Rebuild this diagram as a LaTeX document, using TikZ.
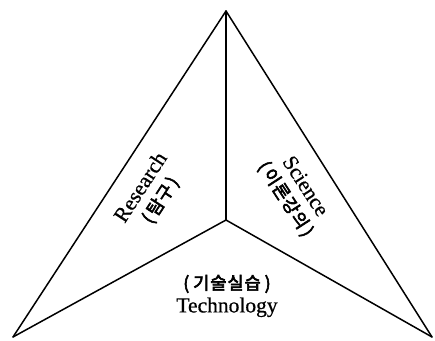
\documentclass[tikz,border=0pt]{standalone}
\usepackage{fontspec}
\setmainfont[FakeBold=0.6]{Liberation Serif}
\newfontfamily\kr[LetterSpace=6, FakeBold=3.5]{Noto Sans CJK KR}
\begin{document}
\begin{tikzpicture}[x=1pt,y=-1pt,
  edge/.style={line width=1.5pt, line join=round, line cap=round},
  lbl/.style={font=\fontsize{21.5}{23}\selectfont, align=center, inner sep=0pt}]
\newcommand{\krs}[1]{{\kr\fontsize{17.5}{23}\selectfont #1}}
\useasboundingbox (0,0) rectangle (435,340);
\coordinate (T) at (226,11);
\coordinate (L) at (13,337);
\coordinate (R) at (432,337);
\coordinate (C) at (226,220);
\draw[edge] (T) -- (L);
\draw[edge] (T) -- (R);
\draw[edge] (T) -- (C);
\draw[edge] (C) -- (L);
\draw[edge] (C) -- (R);
\node[lbl, rotate=57] (res) at (151,194) {Research\\\krs{(\kern3pt 탐구\kern3pt)}};
\node[lbl, rotate=-57] (sci) at (295,193) {Science\\\krs{(\kern3pt 이론강의\kern3pt)}};
\node[lbl] (tec) at (227,296) {\krs{(\kern4pt 기술실습\kern4pt)}\\Technology};
\end{tikzpicture}
\end{document}
